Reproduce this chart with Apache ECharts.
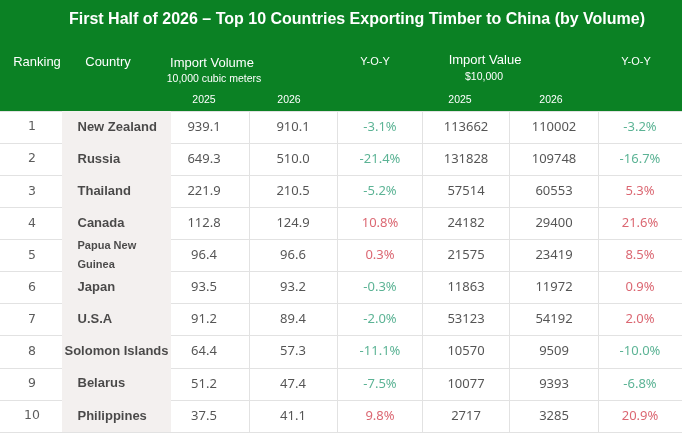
<!DOCTYPE html>
<html>
<head>
<meta charset="utf-8">
<script src="https://cdn.jsdelivr.net/npm/echarts@6/dist/echarts.min.js"></script>
<style>
html, body { margin: 0; padding: 0; background: #fff; }
#main { width: 682px; height: 437px; }
</style>
</head>
<body>
<div id="main"></div>
<script>
// data
var ranks = ['1', '2', '3', '4', '5', '6', '7', '8', '9', '10'];
var countries = ['New Zealand', 'Russia', 'Thailand', 'Canada', 'Papua New\nGuinea', 'Japan', 'U.S.A', 'Solomon Islands', 'Belarus', 'Philippines'];
var vol2025 = [939.1, 649.3, 221.9, 112.8, 96.4, 93.5, 91.2, 64.4, 51.2, 37.5];
var vol2026 = [910.1, 510.0, 210.5, 124.9, 96.6, 93.2, 89.4, 57.3, 47.4, 41.1];
var volYoy = [-3.1, -21.4, -5.2, 10.8, 0.3, -0.3, -2.0, -11.1, -7.5, 9.8];
var val2025 = [113662, 131828, 57514, 24182, 21575, 11863, 53123, 10570, 10077, 2717];
var val2026 = [110002, 109748, 60553, 29400, 23419, 11972, 54192, 9509, 9393, 3285];
var valYoy = [-3.2, -16.7, 5.3, 21.6, 8.5, 0.9, 2.0, -10.0, -6.8, 20.9];

var titleText = 'First Half of 2026 \u2013 Top 10 Countries Exporting Timber to China (by Volume)';

// layout (pixel columns)
var GREEN = '#0b8124';
var RED = '#d2414f';
var TEAL = '#33a07a';
var colRank = 32, colCountry = 77, countryL = 62, countryR = 171;
var colV25 = 204, colV26 = 293, colVY = 380, colP25 = 466, colP26 = 554, colPY = 640;
var dividers = [249, 337, 422, 509, 598];

var dom = document.getElementById('main');
var myChart = echarts.init(dom);

function measure(txt, font) {
    var c = document.createElement('canvas').getContext('2d');
    c.font = font;
    return c.measureText(txt).width;
}

var numFont = 'Noto Sans';
var hdrFont = 'Liberation Sans';

function textSeries(name, x, arr, fmt, colorFn) {
    return {
        name: name,
        type: 'scatter',
        symbolSize: 1,
        itemStyle: { color: 'rgba(0,0,0,0)' },
        silent: true,
        data: arr.map(function (v, i) {
            return {
                value: [x, i],
                raw: v,
                label: { color: colorFn ? colorFn(v) : '#2a2a2a' }
            };
        }),
        label: {
            show: true,
            position: 'inside',
            fontFamily: numFont,
            fontSize: 13,
            formatter: function (p) { return fmt(p.data.raw); }
        },
        z: 5
    };
}

function pct(v) { return v.toFixed(1) + '%'; }
function yoyColor(v) { return v < 0 ? TEAL : RED; }

var countryData = countries.map(function (c, i) {
    var multi = c.indexOf('\n') >= 0;
    var fs = multi ? 11 : 13;
    var w = measure(c.split('\n')[0], 'bold ' + fs + 'px Liberation Sans');
    var fits = colCountry + w <= countryR - 2;
    return {
        value: [fits ? colCountry : (countryL + countryR) / 2, i],
        label: {
            position: fits ? 'right' : 'inside',
            distance: 0,
            fontSize: fs,
            lineHeight: multi ? 19 : 16
        }
    };
});

var headers = [
    { t: 'Ranking', x: 37, y: 62, s: 13 },
    { t: 'Country', x: 108, y: 62, s: 13 },
    { t: 'Import Volume', x: 212, y: 63, s: 13 },
    { t: '10,000 cubic meters', x: 214, y: 79, s: 10.5 },
    { t: 'Y-O-Y', x: 375, y: 62, s: 11 },
    { t: 'Import Value', x: 485, y: 60, s: 13 },
    { t: '$10,000', x: 484, y: 77, s: 10.5 },
    { t: 'Y-O-Y', x: 636, y: 62, s: 11 },
    { t: '2025', x: 204, y: 100, s: 10.5 },
    { t: '2026', x: 289, y: 100, s: 10.5 },
    { t: '2025', x: 460, y: 100, s: 10.5 },
    { t: '2026', x: 551, y: 100, s: 10.5 }
];

var graphics = [{
    type: 'rect',
    shape: { x: 0, y: 0, width: 682, height: 111 },
    style: { fill: GREEN },
    z: 0
}, {
    type: 'text',
    x: 357, y: 20,
    style: {
        text: titleText,
        fill: '#fff',
        font: 'bold 16px "Liberation Sans", Arial, sans-serif',
        align: 'center',
        verticalAlign: 'middle'
    },
    z: 1
}];
headers.forEach(function (h) {
    graphics.push({
        type: 'text',
        x: h.x, y: h.y,
        style: {
            text: h.t,
            fill: '#fff',
            font: h.s + 'px "' + hdrFont + '", Arial, sans-serif',
            align: 'center',
            verticalAlign: 'middle'
        },
        z: 1
    });
});

var option = {
    backgroundColor: '#fff',
    animation: false,
    graphic: graphics,
    grid: { left: 0, right: 0, top: 111, bottom: 5 },
    xAxis: {
        type: 'value', min: 0, max: 682,
        show: false
    },
    yAxis: {
        type: 'category',
        data: ranks,
        inverse: true,
        axisLine: { show: false },
        axisTick: { show: false },
        axisLabel: { show: false },
        splitLine: { show: true, interval: 0, lineStyle: { color: '#e2e2e2', width: 1 } }
    },
    series: [
        {
            name: 'ranking',
            type: 'scatter',
            symbolSize: 1,
            itemStyle: { color: 'rgba(0,0,0,0)' },
            silent: true,
            data: ranks.map(function (r, i) { return { value: [colRank, i], raw: r }; }),
            label: {
                show: true, position: 'inside',
                fontFamily: 'DejaVu Sans', fontSize: 12.5, color: '#333',
                formatter: function (p) { return p.data.raw; }
            },
            markArea: {
                silent: true,
                itemStyle: { color: '#f3f0ef' },
                data: [[{ xAxis: countryL }, { xAxis: countryR }]]
            },
            markLine: {
                silent: true,
                symbol: 'none',
                label: { show: false },
                lineStyle: { color: '#e2e2e2', type: 'solid', width: 1 },
                data: dividers.map(function (d) { return { xAxis: d }; })
            },
            z: 5
        },
        {
            name: 'country',
            type: 'scatter',
            symbolSize: 1,
            itemStyle: { color: 'rgba(0,0,0,0)' },
            silent: true,
            data: countryData,
            label: {
                show: true,
                fontFamily: 'Liberation Sans',
                fontWeight: 'bold',
                color: '#1e1e1e',
                formatter: function (p) { return countries[p.dataIndex]; }
            },
            z: 5
        },
        textSeries('vol2025', colV25, vol2025, function (v) { return v.toFixed(1); }),
        textSeries('vol2026', colV26, vol2026, function (v) { return v.toFixed(1); }),
        textSeries('volYoy', colVY, volYoy, pct, yoyColor),
        textSeries('val2025', colP25, val2025, function (v) { return String(v); }),
        textSeries('val2026', colP26, val2026, function (v) { return String(v); }),
        textSeries('valYoy', colPY, valYoy, pct, yoyColor)
    ]
};

if (option && typeof option === 'object') {
    myChart.setOption(option, true);
}
</script>
</body>
</html>
